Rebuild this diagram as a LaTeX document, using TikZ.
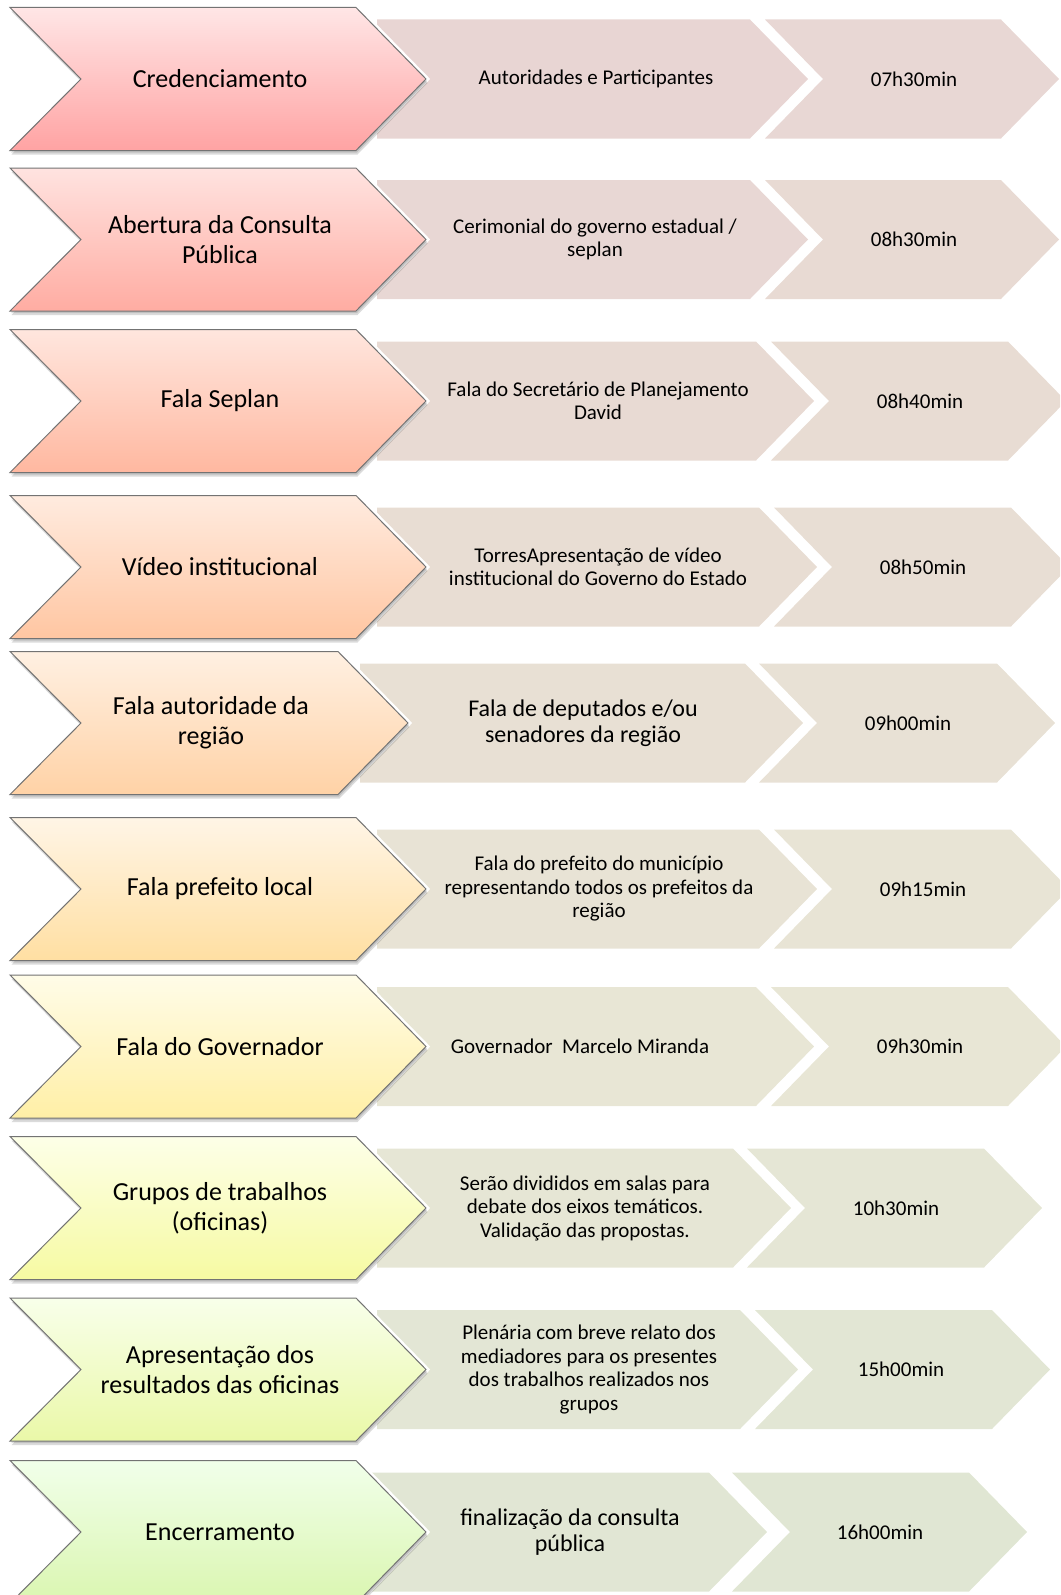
\documentclass[tikz,border=0pt]{standalone}
\usepackage{fontspec}
\setmainfont{Carlito}
%cores das setas
\definecolor{topo1}{HTML}{FFE6E6}\definecolor{base1}{HTML}{FFA3A3}\definecolor{meio1}{HTML}{E8D5D3}\definecolor{fim1}{HTML}{E8D7D4}
\definecolor{topo2}{HTML}{FFE3E0}\definecolor{base2}{HTML}{FFACA2}\definecolor{meio2}{HTML}{E8D7D4}\definecolor{fim2}{HTML}{E8DAD3}
\definecolor{topo3}{HTML}{FFE6DE}\definecolor{base3}{HTML}{FFB8A0}\definecolor{meio3}{HTML}{E8DAD3}\definecolor{fim3}{HTML}{E8DCD3}
\definecolor{topo4}{HTML}{FFEBDF}\definecolor{base4}{HTML}{FFC6A2}\definecolor{meio4}{HTML}{E8DDD3}\definecolor{fim4}{HTML}{E8DED4}
\definecolor{topo5}{HTML}{FFF0E2}\definecolor{base5}{HTML}{FFD2A6}\definecolor{meio5}{HTML}{E8E0D4}\definecolor{fim5}{HTML}{E8E1D5}
\definecolor{topo6}{HTML}{FFF5E6}\definecolor{base6}{HTML}{FFDFA2}\definecolor{meio6}{HTML}{E8E3D5}\definecolor{fim6}{HTML}{E8E4D5}
\definecolor{topo7}{HTML}{FFFCE8}\definecolor{base7}{HTML}{FFEFA6}\definecolor{meio7}{HTML}{E8E6D5}\definecolor{fim7}{HTML}{E8E6D5}
\definecolor{topo8}{HTML}{FDFFE8}\definecolor{base8}{HTML}{F6FAA2}\definecolor{meio8}{HTML}{E6E6D5}\definecolor{fim8}{HTML}{E5E6D5}
\definecolor{topo9}{HTML}{F8FFEA}\definecolor{base9}{HTML}{EAF8A8}\definecolor{meio9}{HTML}{E3E6D5}\definecolor{fim9}{HTML}{E2E6D4}
\definecolor{topo10}{HTML}{F1FFEA}\definecolor{base10}{HTML}{DAF6B0}\definecolor{meio10}{HTML}{E1E6D4}\definecolor{fim10}{HTML}{E0E6D3}
\tikzset{
  titulo/.style={align=center,font=\fontsize{26}{30}\selectfont},
  descr/.style={align=center,font=\fontsize{21}{23.5}\selectfont},
  descrg/.style={align=center,font=\fontsize{24}{26.5}\selectfont},
  hora/.style={font=\fontsize{21}{23.5}\selectfont}
}
\begin{document}
\begin{tikzpicture}[x=1pt,y=-1pt,line join=miter]
			\useasboundingbox (0,0) rectangle (1060,1595);
			\clip (0,0) rectangle (1060,1595);
			\def\h{71.5}
			\def\m{59.5}
			\def\d{70}
			\def\e{58}
			%Desenhar as setas
			\foreach \i/\y/\br/\ml/\mr/\tl/\tr in {1/79/356/377/750/765/1001, 2/239.5/356/377/750/765/1001, 3/401/356/377/756/771/1008, 4/567/356/377/759/774/1011, 5/723/338/360/745/759/997, 6/889/356/377/759/774/1011, 7/1046.5/356/377/756/771/1008, 8/1208/356/377/733/747/984, 9/1369.5/356/377/740/755/992, 10/1532/356/372/709/732/969}{
				\fill[meio\i] (\ml,\y-\m) -- (\mr,\y-\m) -- (\mr+\e,\y) -- (\mr,\y+\m) -- (\ml,\y+\m) -- cycle;
				\fill[fim\i] (\tl,\y-\m) -- (\tr,\y-\m) -- (\tr+\e,\y) -- (\tr,\y+\m) -- (\tl,\y+\m) -- (\tl+\e,\y) -- cycle;
				\shade[top color=topo\i,bottom color=base\i,draw=gray!90!black,line width=1pt,
					preaction={draw=white,line width=6pt},
					preaction={fill=black,opacity=.12,transform canvas={shift={(1,2)}}},
					preaction={fill=black,opacity=.14,transform canvas={shift={(1.5,4)}}}]
					(10,\y-\h) -- (\br,\y-\h) -- (\br+\d,\y) -- (\br,\y+\h) -- (10,\y+\h) -- (81,\y) -- cycle;
			}
			%Textos
			\node[titulo] (cred) at (220,79) {Credenciamento};
			\node[descr] (autor) at (596,79) {Autoridades e Participantes};
			\node[hora] (h1) at (914,79) {07h30min};
			\node[titulo] (abert) at (220,239.5) {Abertura da Consulta\\Pública};
			\node[descr] (cerim) at (595,239.5) {Cerimonial do governo estadual /\\seplan};
			\node[hora] (h2) at (914,239.5) {08h30min};
			\node[titulo] (seplan) at (220,401) {Fala Seplan};
			\node[descr] (secret) at (598,401) {Fala do Secretário de Planejamento\\David};
			\node[hora] (h3) at (920,401) {08h40min};
			\node[titulo] (video) at (220,567) {Vídeo institucional};
			\node[descr] (apres) at (598,567) {TorresApresentação de vídeo\\institucional do Governo do Estado};
			\node[hora] (h4) at (923,567) {08h50min};
			\node[titulo] (autorid) at (211,723) {Fala autoridade da\\região};
			\node[descrg] (deput) at (583,723) {Fala de deputados e/ou\\senadores da região};
			\node[hora] (h5) at (908,723) {09h00min};
			\node[titulo] (prefeito) at (220,889) {Fala prefeito local};
			\node[descr] (munic) at (599,889) {Fala do prefeito do município\\representando todos os prefeitos da\\região};
			\node[hora] (h6) at (923,889) {09h15min};
			\node[titulo] (govern) at (220,1046.5) {Fala do Governador};
			\node[descr] (marcelo) at (580,1046.5) {Governador\ \ Marcelo Miranda};
			\node[hora] (h7) at (920,1046.5) {09h30min};
			\node[titulo] (grupos) at (220,1208) {Grupos de trabalhos\\(oficinas)};
			\node[descr] (salas) at (585,1208) {Serão divididos em salas para\\debate dos eixos temáticos.\\Validação das propostas.};
			\node[hora] (h8) at (896,1208) {10h30min};
			\node[titulo] (result) at (220,1369.5) {Apresentação dos\\resultados das oficinas};
			\node[descr] (plenar) at (589,1369.5) {Plenária com breve relato dos\\mediadores para os presentes\\dos trabalhos realizados nos\\grupos};
			\node[hora] (h9) at (901,1369.5) {15h00min};
			\node[titulo] (encerr) at (220,1532) {Encerramento};
			\node[descrg] (final) at (570,1532) {finalização da consulta\\pública};
			\node[hora] (h10) at (880,1532) {16h00min};
		\end{tikzpicture}
\end{document}
